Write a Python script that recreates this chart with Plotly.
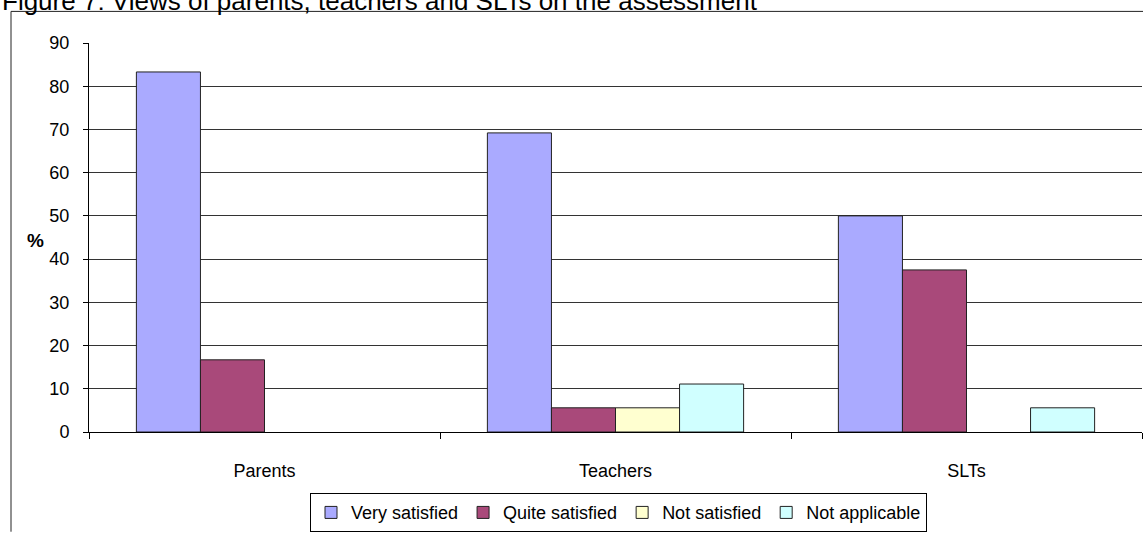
import plotly.graph_objects as go

# Respondent groups and satisfaction shares (%)
groups = ["Parents", "Teachers", "SLTs"]
very_satisfied = [83.3, 69.2, 50.0]
quite_satisfied = [16.7, 5.6, 37.5]
not_satisfied = [0.0, 5.6, 0.0]
not_applicable = [0.0, 11.1, 5.6]

series = [
    ("Very satisfied", very_satisfied, "#AAAAFF"),
    ("Quite satisfied", quite_satisfied, "#A9497A"),
    ("Not satisfied", not_satisfied, "#FFFFD0"),
    ("Not applicable", not_applicable, "#D0FFFF"),
]

y_ticks = list(range(0, 91, 10))

FONT = "Liberation Sans, Arial, sans-serif"

fig = go.Figure()
for name, vals, color in series:
    # zero shares get no bar at all (avoids a hairline outline on the axis)
    fig.add_trace(go.Bar(
        name=name,
        x=groups,
        y=[v if v > 0 else None for v in vals],
        marker=dict(color=color, line=dict(color="#222222", width=1)),
    ))

W, H = 1143, 533
L, R, T, B = 89, 1, 43, 96
pw, ph = W - L - R, H - T - B


def px_x(x):
    return (x - L) / pw


def px_y(y):
    return (H - B - y) / ph


fig.update_layout(
    width=W,
    height=H,
    margin=dict(l=L, r=R, t=T, b=B),
    paper_bgcolor="white",
    plot_bgcolor="white",
    barmode="group",
    bargap=0.27,
    bargroupgap=0,
    font=dict(family=FONT, size=18, color="black"),
    showlegend=True,
    legend=dict(
        orientation="h",
        x=px_x(310),
        xanchor="left",
        y=px_y(499),
        yanchor="top",
        bordercolor="black",
        borderwidth=1,
        font=dict(family=FONT, size=18, color="black"),
        traceorder="normal",
    ),
    xaxis=dict(
        showline=True,
        linecolor="black",
        linewidth=1,
        ticks="outside",
        ticklen=6,
        tickcolor="black",
        tickson="boundaries",
        showgrid=False,
        ticklabelstandoff=22,
        tickfont=dict(family=FONT, size=18),
    ),
    yaxis=dict(
        range=[0, 90],
        tickvals=y_ticks,
        showline=True,
        linecolor="black",
        linewidth=1,
        ticks="outside",
        ticklen=5,
        tickcolor="black",
        showgrid=True,
        gridcolor="#333333",
        gridwidth=1,
        zeroline=False,
        ticklabelstandoff=10,
        tickfont=dict(family=FONT, size=18),
    ),
    annotations=[
        dict(
            text="Figure 7: Views of parents, teachers and SLTs on the assessment",
            xref="paper", yref="paper",
            x=px_x(0), y=px_y(0),
            xanchor="left", yanchor="middle",
            showarrow=False,
            font=dict(family=FONT, size=26, color="black"),
        ),
        dict(
            text="<b>%</b>",
            xref="paper", yref="paper",
            x=px_x(35), y=px_y(243),
            xanchor="center", yanchor="middle",
            showarrow=False,
            font=dict(family=FONT, size=19, color="black"),
        ),
    ],
    shapes=[
        # chart frame
        dict(type="line", xref="paper", yref="paper",
             x0=px_x(11), x1=px_x(W + 5), y0=px_y(11), y1=px_y(11),
             line=dict(color="#222222", width=1)),
        dict(type="line", xref="paper", yref="paper",
             x0=px_x(11), x1=px_x(11), y0=px_y(11), y1=px_y(H + 5),
             line=dict(color="#222222", width=1)),
    ],
)

fig.write_html("out.html")
